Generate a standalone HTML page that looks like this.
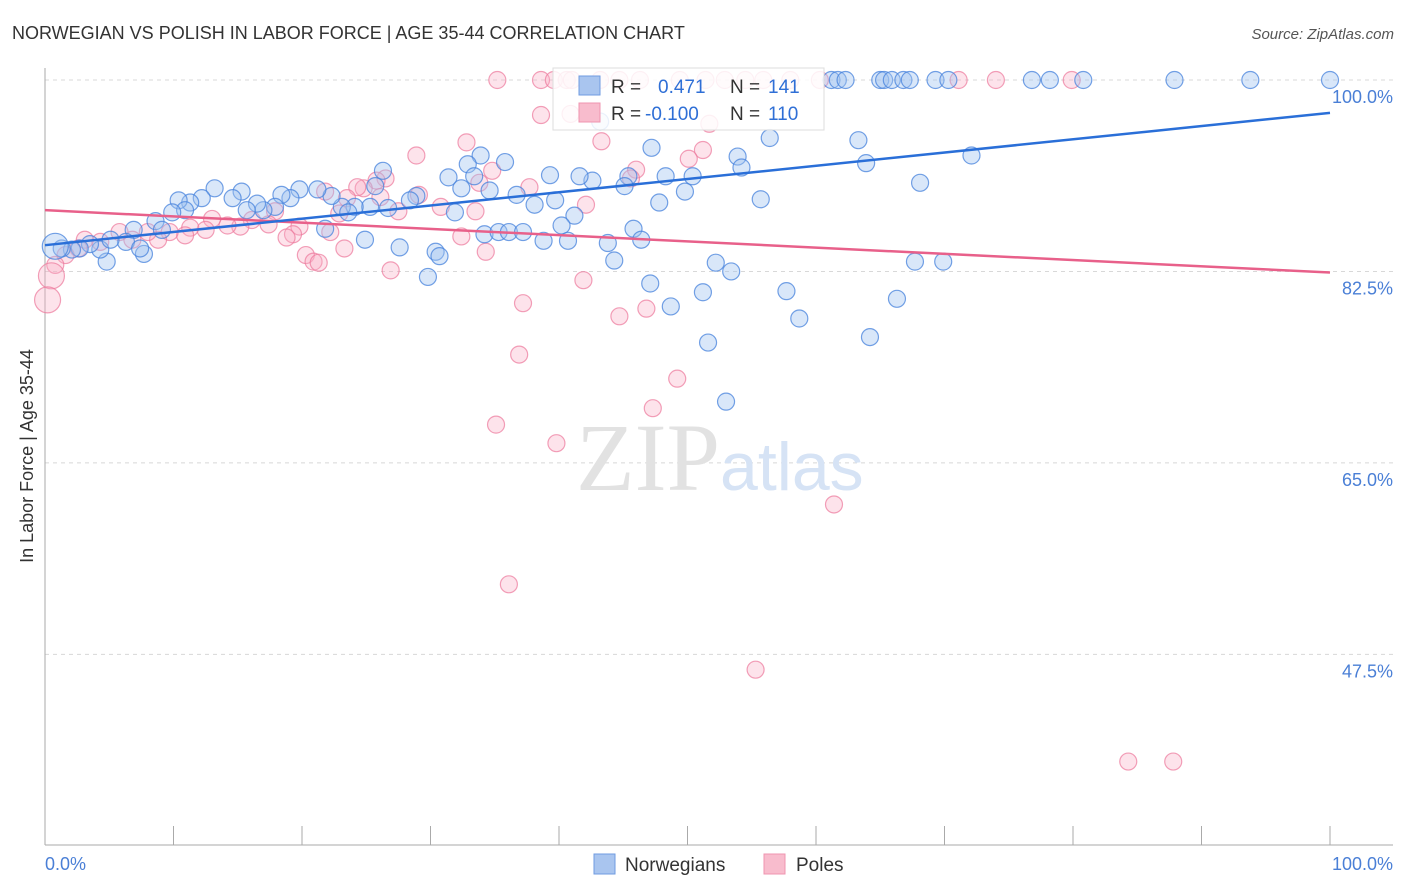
<!DOCTYPE html>
<html><head><meta charset="utf-8">
<style>
body{margin:0;background:#fff;font-family:"Liberation Sans",sans-serif;}
svg{display:block}
</style></head>
<body>
<svg id="chart" width="1406" height="892" xmlns="http://www.w3.org/2000/svg">
<text x="12" y="39" font-size="18" fill="#333">NORWEGIAN VS POLISH IN LABOR FORCE | AGE 35-44 CORRELATION CHART</text>
<text x="1394" y="39" font-size="15" fill="#555" text-anchor="end" font-style="italic">Source: ZipAtlas.com</text>
<text x="33" y="456" font-size="18" fill="#333" text-anchor="middle" transform="rotate(-90 33 456)">In Labor Force | Age 35-44</text>
<g id="grid"></g>
<text x="720" y="490" font-size="96" fill="#e2e2e2" text-anchor="end" font-family="Liberation Serif,serif">ZIP</text>
<text x="720" y="490" font-size="68" fill="#d6e3f5">atlas</text>
<g id="pts"></g>
<g id="lines"></g>
<g>
<rect x="553" y="68" width="271" height="62" fill="#fff" fill-opacity="0.85" stroke="#ddd"/>
<rect x="579" y="76" width="21" height="19" fill="#a9c5ef" stroke="#6f9be0"/>
<rect x="579" y="103" width="21" height="19" fill="#f8bccd" stroke="#ef95b0"/>
<text x="611" y="93" font-size="19" fill="#333">R =</text>
<text x="658" y="93" font-size="19" fill="#2f6fd6">0.471</text>
<text x="730" y="93" font-size="19" fill="#333">N =</text>
<text x="768" y="93" font-size="19" fill="#2f6fd6">141</text>
<text x="611" y="120" font-size="19" fill="#333">R =</text>
<text x="645" y="120" font-size="19" fill="#2f6fd6">-0.100</text>
<text x="730" y="120" font-size="19" fill="#333">N =</text>
<text x="768" y="120" font-size="19" fill="#2f6fd6">110</text>
</g>
<g>
<rect x="594" y="854" width="21" height="20" fill="#a9c5ef" stroke="#6f9be0"/>
<text x="625" y="871" font-size="19" fill="#333">Norwegians</text>
<rect x="764" y="854" width="21" height="20" fill="#f8bccd" stroke="#ef95b0"/>
<text x="796" y="871" font-size="19" fill="#333">Poles</text>
</g>
</svg>
<script>
const yTicks=[100,82.5,65,47.5];
const xTickLabels=["0.0%","100.0%"];
const blueX=[61.2,61.7,62.3,65.0,65.3,65.9,66.8,67.3,69.3,70.3,76.8,78.2,80.8,87.9,93.8,100,43.2,56.4,63.3,63.9,68.1,72.1,53.9,54.2,55.7,47.2,48.3,50.4,49.8,47.8,45.4,45.1,42.6,41.6,39.3,39.7,38.1,41.2,40.2,36.7,35.8,33.9,32.9,33.4,34.6,31.4,32.4,31.9,26.3,25.7,28.9,28.4,26.7,25.3,24.1,23.1,23.6,21.8,22.3,21.2,19.8,19.1,18.4,17.9,17.0,16.5,15.7,15.3,14.6,13.2,12.2,11.3,10.4,10.9,9.9,8.6,9.1,6.9,6.3,7.7,7.4,4.8,4.3,3.5,2.7,2.1,1.3,0.8,5.1,24.9,27.6,29.8,30.4,30.7,34.2,35.3,36.1,37.2,38.8,40.7,43.8,44.3,45.8,46.4,47.1,48.7,51.2,51.6,52.2,53.4,53.0,57.7,58.7,64.2,66.3,67.7,69.9];
const blueY=[100,100,100,100,100,100,100,100,100,100,100,100,100,100,100,100,96.2,94.7,94.5,92.4,90.6,93.1,93.0,92.0,89.1,93.8,91.2,91.2,89.8,88.8,91.2,90.3,90.8,91.2,91.3,89.0,88.6,87.6,86.7,89.5,92.5,93.1,92.3,91.2,89.9,91.1,90.1,87.9,91.7,90.3,89.4,89.0,88.3,88.4,88.4,88.4,87.9,86.4,89.4,90.0,90.0,89.2,89.5,88.4,88.1,88.7,88.1,89.8,89.2,90.1,89.2,88.8,89.0,88.1,87.9,87.1,86.3,86.3,85.2,84.1,84.6,83.4,84.5,85.0,84.6,84.5,84.6,84.8,85.4,85.4,84.7,82.0,84.3,83.9,85.9,86.1,86.1,86.1,85.3,85.3,85.1,83.5,86.4,85.4,81.4,79.3,80.6,76.0,83.3,82.5,70.6,80.7,78.2,76.5,80.0,83.4,83.4];
const pinkX=[35.2,38.6,39.6,40.6,41.0,43.2,44.7,46.3,49.4,51.4,52.9,54.5,55.9,58.0,60.3,71.1,74.0,79.9,38.6,40.9,51.7,32.8,43.3,28.9,51.2,50.1,46.0,45.6,34.8,33.8,37.7,29.1,30.8,33.5,26.5,25.8,24.8,24.3,26.1,27.5,23.5,21.8,22.9,22.2,19.8,19.3,18.8,17.9,17.4,16.1,15.2,14.2,13.0,12.5,11.3,10.9,9.7,8.8,8.0,6.8,5.8,4.3,3.1,2.6,1.6,0.8,0.5,0.2,20.3,20.9,21.3,23.3,26.9,32.4,34.3,37.2,36.9,35.1,39.8,36.1,41.9,44.7,46.8,49.2,47.3,61.4,55.3,84.3,87.8,42.1];
const pinkY=[100,100,100,100,100,100,100,100,100,100,100,100,100,100,100,100,100,100,96.8,96.9,96.0,94.3,94.4,93.1,93.6,92.8,91.8,91.0,91.7,90.6,90.2,89.5,88.4,88.0,91.0,90.8,90.1,90.2,89.3,88.0,89.2,89.8,87.8,86.1,86.6,85.9,85.6,88.0,86.8,87.2,86.6,86.7,87.3,86.3,86.5,85.8,86.1,85.4,86.1,85.4,86.1,85.2,85.4,84.6,84.0,83.1,82.1,79.9,84.0,83.4,83.3,84.6,82.6,85.7,84.3,79.6,74.9,68.5,66.8,53.9,81.7,78.4,79.1,72.7,70.0,61.2,46.1,37.7,37.7,88.6];
const blueTrend=[84.9,97.0];
const pinkTrend=[88.1,82.4];
const NS="http://www.w3.org/2000/svg";
const X0=45,X1=1330,Y100=80,PX_PER=10.94;
const sx=v=>X0+(X1-X0)*v/100;
const sy=v=>Y100+(100-v)*PX_PER;
function mk(tag,attrs,parent){const e=document.createElementNS(NS,tag);for(const k in attrs)e.setAttribute(k,attrs[k]);parent.appendChild(e);return e;}
const grid=document.getElementById('grid');
yTicks.forEach(t=>{
 const l=mk('line',{x1:45,x2:1393,y1:sy(t),y2:sy(t),stroke:'#d8d8d8','stroke-dasharray':'4,4'},grid);
 
 
 const tx=mk('text',{x:1393,y:sy(t)+23,'font-size':18,fill:'#4a7fd6','text-anchor':'end'},grid);
 tx.textContent=t.toFixed(1)+'%';
 
 
});
const ax=mk('line',{x1:45,x2:45,y1:68,y2:845,stroke:'#aaa'},grid);


const bx=mk('line',{x1:45,x2:1393,y1:845,y2:845,stroke:'#aaa'},grid);


for(let i=0;i<=10;i++){
 const t=mk('line',{x1:sx(i*10),x2:sx(i*10),y1:826,y2:845,stroke:'#aaa'},grid);
 
 
}
[[0,'start',45],[100,'end',1393]].forEach((d,i)=>{
 const t=mk('text',{x:d[2],y:870,'font-size':18,fill:'#4a7fd6','text-anchor':d[1]},grid);
 t.textContent=xTickLabels[i];
 
 
});
const pts=document.getElementById('pts');
pinkX.forEach((x,i)=>{
 const r=(i>=66&&i<=67)?13:8.5;
 const c=mk('circle',{cx:sx(x),cy:sy(pinkY[i]),r:r,fill:'rgba(248,176,198,0.35)',stroke:'rgba(236,120,155,0.7)','stroke-width':1.2},pts);
 
 
});
blueX.forEach((x,i)=>{
 const r=(i===87)?13:8.5;
 const c=mk('circle',{cx:sx(x),cy:sy(blueY[i]),r:r,fill:'rgba(160,194,240,0.4)',stroke:'rgba(70,130,220,0.75)','stroke-width':1.2},pts);
 
 
});
const lines=document.getElementById('lines');
const pl=mk('line',{x1:sx(0),y1:sy(pinkTrend[0]),x2:sx(100),y2:sy(pinkTrend[1]),stroke:'#e8608a','stroke-width':2.5},lines);


const bl=mk('line',{x1:sx(0),y1:sy(blueTrend[0]),x2:sx(100),y2:sy(blueTrend[1]),stroke:'#2a6fd8','stroke-width':2.5},lines);


</script>
</body></html>
